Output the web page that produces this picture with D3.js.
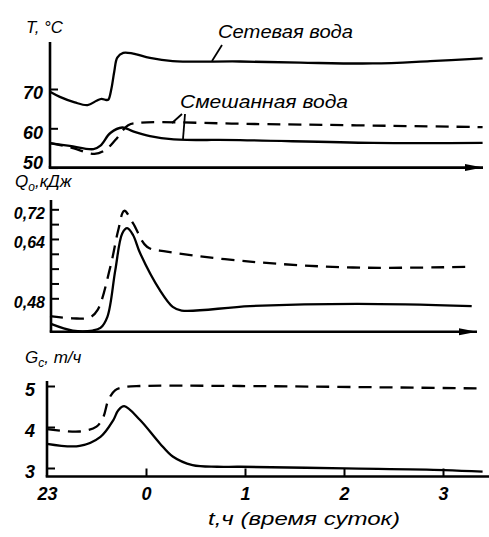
<!DOCTYPE html>
<html><head><meta charset="utf-8">
<script src="https://cdn.jsdelivr.net/npm/d3@7"></script>
<style>body{margin:0;background:#fff}svg{display:block}</style>
</head><body>
<svg id="c" width="489" height="537"></svg>
<script>
// time in hours relative to midnight (23:00 = -1)
const timeTicks = [-1, 0, 1, 2, 3];
const timeTickLabels = ["23", "0", "1", "2", "3"];

// Panel 1: temperatures, °C
const tNet   = [-0.97,-0.87,-0.72,-0.59,-0.50,-0.45,-0.40,-0.38,-0.35,-0.32,-0.29,-0.23,-0.13,0.04,0.27,0.95,1.56,2.29,2.87,3.40];
const netWater = [69.3,68.0,66.6,65.9,67.0,67.5,67.2,67.3,70.0,74.5,78.0,79.2,79.0,77.9,77.1,77.0,76.7,76.5,77.1,77.8];
const tMixSolid = [-0.97,-0.77,-0.53,-0.46,-0.36,-0.24,-0.13,0.04,0.28,0.95,2.29,3.40];
const mixSolid  = [56.2,55.5,54.7,55.6,58.8,60.2,59.2,58.0,57.2,57.0,56.3,56.3];
const tMixDash  = [-0.97,-0.77,-0.52,-0.41,-0.31,-0.18,-0.06,1.10,3.40];
const mixDash   = [56.2,55.2,53.5,54.5,57.0,60.8,61.4,61.1,60.3];
const tempTicks = [50, 60, 70];

// Panel 2: Q0, кДж
const tQSolid = [-0.96,-0.74,-0.54,-0.46,-0.39,-0.31,-0.24,-0.19,-0.13,-0.06,0.14,0.27,0.36,1.05,2.13,3.29];
const qSolid  = [0.411,0.393,0.393,0.400,0.430,0.556,0.655,0.669,0.650,0.602,0.502,0.457,0.447,0.459,0.465,0.459];
const tQDash  = [-0.97,-0.74,-0.57,-0.49,-0.36,-0.28,-0.22,-0.13,0.01,0.21,1.05,2.09,3.27];
const qDash   = [0.432,0.426,0.428,0.448,0.565,0.664,0.716,0.682,0.619,0.606,0.579,0.563,0.565];
const qTicks  = [0.48,0.52,0.56,0.60,0.64,0.68,0.72];
const qLabelled = [0.48,0.64,0.72];

// Panel 3: Gc, т/ч
const tGSolid = [-1.0,-0.67,-0.46,-0.33,-0.28,-0.22,-0.06,0.14,0.27,0.47,0.72,0.95,2.01,3.01,3.40];
const gSolid  = [3.59,3.54,3.76,4.17,4.41,4.51,4.17,3.60,3.28,3.07,3.03,3.03,2.99,2.95,2.91];
const tGDash  = [-1.0,-0.67,-0.50,-0.43,-0.38,-0.31,-0.23,-0.06,0.95,3.40];
const gDash   = [3.95,3.89,4.01,4.25,4.66,4.90,4.97,5.0,5.0,4.94];
const gTicks  = [3, 4, 5];

const zip = (a, b) => a.map((v, i) => [v, b[i]]);
const svg = d3.select("#c");
const FONT = "'Liberation Sans', Arial, sans-serif";

svg.append("defs").append("marker")
  .attr("id", "arr").attr("viewBox", "0 0 18 8").attr("refX", 18).attr("refY", 4)
  .attr("markerWidth", 18).attr("markerHeight", 8).attr("markerUnits", "userSpaceOnUse")
  .attr("orient", "auto")
  .append("path").attr("d", "M0,0.5 L18,4 L0,7.5 Z").attr("fill", "#000");

const x = d3.scaleLinear().domain([-1, 3]).range([47, 443]);

function panel(opts) {
  const g = svg.append("g");
  const y = opts.y;
  g.append("line").attr("x1", opts.left).attr("x2", opts.left)
    .attr("y1", opts.top).attr("y2", opts.bottom)
    .attr("stroke", "#000").attr("stroke-width", 2.6);
  const xl = g.append("line").attr("x1", opts.left - 1.3).attr("x2", opts.right)
    .attr("y1", opts.bottom).attr("y2", opts.bottom)
    .attr("stroke", "#000").attr("stroke-width", 2.6);
  if (opts.arrow) xl.attr("marker-end", "url(#arr)");
  const ax = d3.axisLeft(y).tickValues(opts.ticks).tickSizeInner(-8).tickSizeOuter(0)
    .tickPadding(opts.pad).tickFormat(opts.fmt);
  const ag = g.append("g").attr("transform", `translate(${opts.left},0)`).call(ax);
  ag.select(".domain").remove();
  ag.selectAll(".tick line").attr("stroke", "#000").attr("stroke-width", 2);
  ag.selectAll(".tick text").attr("font-family", FONT).attr("font-style", "italic")
    .attr("font-weight", "bold")
    .attr("font-size", opts.fs).attr("fill", "#000").attr("dy", "0.55em");
  if (opts.after) opts.after(ag);
  const line = d3.line().x(d => x(d[0])).y(d => y(d[1])).curve(d3.curveCatmullRom.alpha(0.5));
  opts.series.forEach(s => {
    g.append("path").attr("d", line(s.data)).attr("fill", "none")
      .attr("stroke", "#000").attr("stroke-width", 2.3)
      .attr("stroke-dasharray", s.dash ? "13,8" : null)
      .attr("stroke-linejoin", "round");
  });
  return g;
}

// Panel 1
const yT = d3.scaleLinear().domain([50, 70]).range([167.6, 89]);
panel({
  y: yT, left: 50, top: 42, bottom: 167.6, right: 483, arrow: true,
  ticks: tempTicks, pad: 7, fs: 18, fmt: d => d,
  after: ag => ag.selectAll(".tick").filter(d => d === 50).select("text").attr("dy", "0.05em"),
  series: [
    {data: zip(tNet, netWater)},
    {data: zip(tMixSolid, mixSolid)},
    {data: zip(tMixDash, mixDash), dash: true}
  ]
});

// Panel 2
const yQ = d3.scaleLinear().domain([0.48, 0.72]).range([298.3, 209.3]);
panel({
  y: yQ, left: 51, top: 200, bottom: 331.7, right: 477, arrow: true,
  ticks: qTicks, pad: 6, fs: 16,
  fmt: d => qLabelled.some(v => Math.abs(v - d) < 1e-9) ? d.toFixed(2).replace(".", ",") : "",
  series: [
    {data: zip(tQSolid, qSolid)},
    {data: zip(tQDash, qDash), dash: true}
  ]
});

// Panel 3
const yG = d3.scaleLinear().domain([3, 5]).range([468, 386]);
panel({
  y: yG, left: 47, top: 381, bottom: 476.5, right: 489, arrow: false,
  ticks: gTicks, pad: 12, fs: 18, fmt: d => d,
  series: [
    {data: zip(tGSolid, gSolid)},
    {data: zip(tGDash, gDash), dash: true}
  ]
});

// time axis ticks on bottom panel
const xa = d3.axisBottom(x).tickValues(timeTicks).tickSizeInner(-8).tickSizeOuter(0)
  .tickPadding(11).tickFormat((d, i) => timeTickLabels[i]);
const xg = svg.append("g").attr("transform", "translate(0,476.5)").call(xa);
xg.select(".domain").remove();
xg.selectAll(".tick line").attr("stroke", "#000").attr("stroke-width", 2);
xg.selectAll(".tick").filter(d => d === -1).select("line").remove();
xg.selectAll(".tick text").attr("font-family", FONT).attr("font-style", "italic")
  .attr("font-weight", "bold").attr("font-size", 18).attr("fill", "#000");

// texts
function txt(s, tx, ty, fs, len) {
  const t = svg.append("text").attr("x", tx).attr("y", ty).attr("font-family", FONT)
    .attr("font-style", "italic").attr("font-size", fs).attr("fill", "#000").text(s);
  if (len) t.attr("textLength", len).attr("lengthAdjust", "spacingAndGlyphs");
  return t;
}
txt("T, °C", 26, 33, 17, 37);
const q = svg.append("text").attr("x", 15).attr("y", 187).attr("font-family", FONT)
  .attr("font-style", "italic").attr("font-size", 17).attr("fill", "#000");
q.append("tspan").text("Q");
q.append("tspan").attr("dy", 4).attr("font-size", 12).text("o");
q.append("tspan").attr("dy", -4).text(",кДж");
const gl = svg.append("text").attr("x", 25).attr("y", 363).attr("font-family", FONT)
  .attr("font-style", "italic").attr("font-size", 17).attr("fill", "#000");
gl.append("tspan").text("G");
gl.append("tspan").attr("dy", 4).attr("font-size", 12).text("c");
gl.append("tspan").attr("dy", -4).text(", т/ч");

txt("Сетевая вода", 218, 38, 18, 135);
txt("Смешанная вода", 180, 108, 18, 168);
txt("t,ч (время суток)", 208, 525, 19, 192);

// leader lines
const leaders = [[222, 45, 212, 61], [182, 114, 172, 123], [185, 114, 183, 139]];
svg.selectAll(".ld").data(leaders).enter().append("line")
  .attr("x1", d => d[0]).attr("y1", d => d[1]).attr("x2", d => d[2]).attr("y2", d => d[3])
  .attr("stroke", "#000").attr("stroke-width", 1.8);
</script>
</body></html>
